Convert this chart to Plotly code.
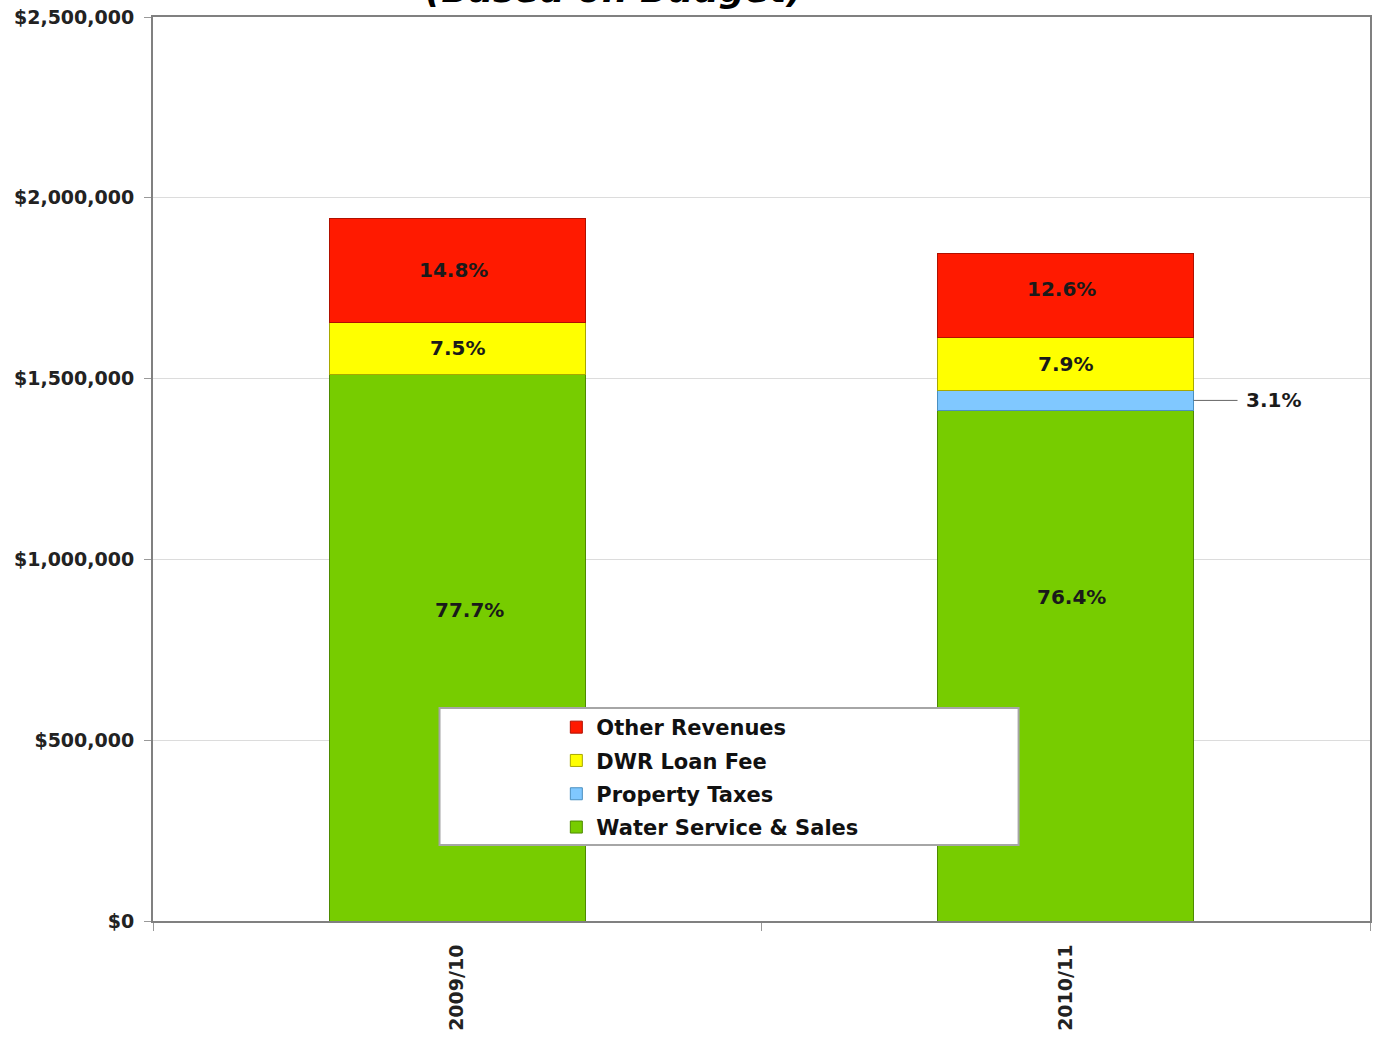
import plotly.graph_objects as go

categories = ["2009/10", "2010/11"]
water = [1510500, 1411000]
property_tax = [0, 57300]
dwr = [145800, 145900]
other = [287700, 232700]

water_lbl = ["77.7%", "76.4%"]
dwr_lbl = ["7.5%", "7.9%"]
other_lbl = ["14.8%", "12.6%"]
prop_lbl = ["", "3.1%"]

# label placement style (fraction of segment height, pixel x shift)
green_frac = [0.57, 0.635]
green_xshift = [12, 6]
red_frac = [0.5, 0.57]

FONT = "DejaVu Sans"
L, R, T, B = 153, 2, 17, 117
W, H = 1374, 1038
pw, ph = W - L - R, H - T - B

def px_x(p):
    return (p - L) / pw

def px_y(p):
    return (H - B - p) / ph

series = [
    ("Water Service & Sales", water, "#77CC00", "#4d8a00"),
    ("Property Taxes", property_tax, "#80C8FF", "#4a8fc0"),
    ("DWR Loan Fee", dwr, "#FFFF00", "#a8a800"),
    ("Other Revenues", other, "#FF1A00", "#b01000"),
]

fig = go.Figure()
for i, (name, vals, col, lcol) in enumerate(series):
    fig.add_trace(go.Bar(
        name=name, x=categories, y=vals,
        marker=dict(color=col, line=dict(color=lcol, width=1)),
        legendgroup=f"g{i}", legendrank=1000 - i,
        hoverinfo="skip",
    ))

lblfont = dict(family=FONT, size=20, color="#1a1a1a", weight="bold")
annotations = []
for ci, cat in enumerate(categories):
    base = 0
    segs = [(water[ci], water_lbl[ci], green_frac[ci], green_xshift[ci]),
            (property_tax[ci], "", 0.5, 0),
            (dwr[ci], dwr_lbl[ci], 0.5, 0),
            (other[ci], other_lbl[ci], red_frac[ci], -4)]
    for v, lbl, f, xs in segs:
        if lbl:
            annotations.append(dict(
                x=cat, y=base + v * f, xref="x", yref="y", text=lbl, xshift=xs,
                showarrow=False, font=lblfont,
            ))
        base += v

# 3.1% outside label with leader line
annotations.append(dict(
    x=1 + 0.21, y=water[1] + property_tax[1] / 2, xref="x", yref="y",
    text=prop_lbl[1], showarrow=True, arrowhead=0, arrowwidth=1, arrowcolor="#666666",
    ax=80, ay=0, borderpad=8, font=lblfont, standoff=0, yshift=0,
))

# partially visible title (cut at the top edge as in the source)
annotations.append(dict(
    x=px_x(615), y=px_y(12), xref="paper", yref="paper", yanchor="bottom",
    text="<i>(Based on Budget)</i>", showarrow=False,
    font=dict(family=FONT, size=36, color="#000000", weight="bold"),
))

fig.update_layout(
    width=W, height=H,
    margin=dict(l=L, r=R, t=T, b=B),
    paper_bgcolor="white", plot_bgcolor="white",
    barmode="stack", bargap=0.58,
    showlegend=True,
    legend=dict(
        x=px_x(557), y=px_y(707), xanchor="left", yanchor="top",
        traceorder="grouped", bgcolor="rgba(0,0,0,0)",
        font=dict(family=FONT, size=21, color="#111111", weight="bold"),
        tracegroupgap=3, itemclick=False,
    ),
    annotations=annotations,
    shapes=[dict(
        type="rect", xref="paper", yref="paper",
        x0=px_x(440), x1=px_x(1020), y0=px_y(845), y1=px_y(708),
        fillcolor="white", line=dict(color="#a6a6a6", width=2), layer="above",
    )],
    xaxis=dict(
        type="category", showgrid=False, showline=True, linecolor="#808080", linewidth=2,
        mirror=True, ticks="outside", tickson="boundaries", ticklen=8, tickcolor="#999999",
        tickangle=-90, ticklabelstandoff=14,
        tickfont=dict(family=FONT, size=19, color="#222222", weight="bold"),
    ),
    yaxis=dict(
        range=[0, 2500000], dtick=500000, tickformat="$,.0f",
        showgrid=True, gridcolor="#dcdcdc", gridwidth=1,
        showline=True, linecolor="#808080", linewidth=2, mirror=True,
        ticks="outside", ticklen=7, tickcolor="#999999", ticklabelstandoff=6,
        tickfont=dict(family=FONT, size=19, color="#222222", weight="bold"),
        zeroline=False,
    ),
)

fig.write_html("out.html")
